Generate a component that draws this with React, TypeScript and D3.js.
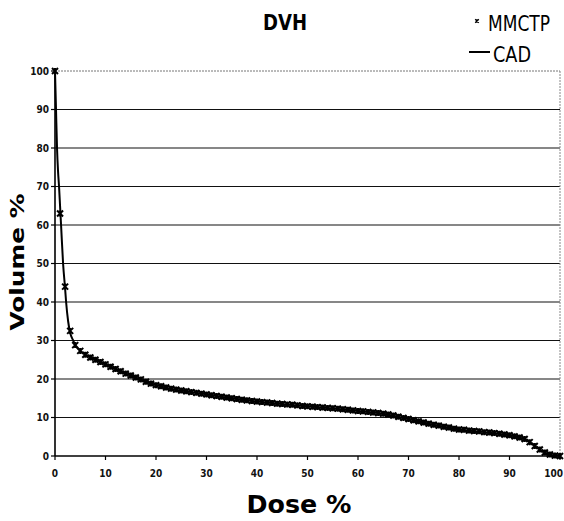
import React from "react";
import * as d3 from "d3";

const yTicks = [0, 10, 20, 30, 40, 50, 60, 70, 80, 90, 100];
const xTicks = [0, 10, 20, 30, 40, 50, 60, 70, 80, 90, 100];

const mmctpDose = [
  0, 1, 2, 3, 4, 5, 6, 7, 8, 9, 10, 11, 12, 13, 14, 15, 16, 17, 18, 19, 20,
  21, 22, 23, 24, 25, 26, 27, 28, 29, 30, 31, 32, 33, 34, 35, 36, 37, 38, 39, 40,
  41, 42, 43, 44, 45, 46, 47, 48, 49, 50, 51, 52, 53, 54, 55, 56, 57, 58, 59, 60,
  61, 62, 63, 64, 65, 66, 67, 68, 69, 70, 71, 72, 73, 74, 75, 76, 77, 78, 79, 80,
  81, 82, 83, 84, 85, 86, 87, 88, 89, 90, 91, 92, 93, 94, 95, 96, 97, 98, 99, 100,
];
const mmctpVolume = [
  100, 63, 44, 32.5, 28.8, 27.3, 26.3, 25.6, 25.0, 24.4, 23.8, 23.2, 22.6, 22.0, 21.4, 20.9, 20.4, 19.9, 19.3, 18.8, 18.4,
  18.1, 17.8, 17.5, 17.25, 17.0, 16.8, 16.6, 16.4, 16.2, 16.0, 15.8, 15.6, 15.4, 15.2, 15.0, 14.8, 14.6, 14.45, 14.3, 14.15,
  14.0, 13.9, 13.75, 13.6, 13.5, 13.4, 13.3, 13.15, 13.0, 12.9, 12.8, 12.7, 12.6, 12.5, 12.4, 12.3, 12.15, 12.0, 11.85, 11.7,
  11.6, 11.45, 11.3, 11.15, 11.0, 10.8, 10.5, 10.2, 9.9, 9.6, 9.3, 9.0, 8.7, 8.4, 8.1, 7.9, 7.6, 7.4, 7.1, 6.9,
  6.8, 6.6, 6.5, 6.4, 6.2, 6.1, 5.95, 5.8, 5.6, 5.4, 5.1, 4.8, 4.4, 3.6, 2.6, 1.7, 0.9, 0.4, 0.1, 0,
];

const cadDose = [
  0, 0.2, 0.4, 0.6, 0.8, 1, 1.2, 1.6, 2, 2.2, 2.6, 3, 3.6, 4, 5, 6, 8, 10, 15, 20, 25, 30,
  40, 50, 60, 65, 70, 75, 80, 85, 90, 92, 93, 94, 95, 96, 97, 98, 99, 100,
];
const cadVolume = [
  100, 90, 80, 74, 70, 65, 60, 50, 43.5, 40, 35, 32, 30, 28.8, 27.3, 26.3, 25.0, 23.8, 20.9, 18.4, 17.0, 16.0,
  14.15, 12.9, 11.7, 11.0, 9.6, 8.1, 6.9, 6.2, 5.4, 4.8, 4.4, 3.6, 2.6, 1.7, 0.9, 0.4, 0.1, 0,
];

const W = 564;
const H = 521;
const LEFT = 55;
const RIGHT = 560;
const TOP = 71;
const BOTTOM = 456;

export default function App() {
  const x = d3.scaleLinear().domain([0, 100]).range([LEFT, RIGHT]);
  const y = d3.scaleLinear().domain([0, 100]).range([BOTTOM, TOP]);

  const cadPts: [number, number][] = cadDose.map((d, i) => [d, cadVolume[i]]);
  const mmPts: [number, number][] = mmctpDose.map((d, i) => [d, mmctpVolume[i]]);

  const line = d3
    .line<[number, number]>()
    .x((d) => x(d[0]))
    .y((d) => y(d[1]))
    .curve(d3.curveMonotoneX);

  const tickFont = "'DejaVu Sans Condensed', 'DejaVu Sans', sans-serif";
  const titleFont = "'DejaVu Sans Condensed', 'DejaVu Sans', sans-serif";

  const markerPath = (cx: number, cy: number, s: number) =>
    `M${cx - s},${cy - s}L${cx + s},${cy + s}M${cx - s},${cy + s}L${cx + s},${cy - s}M${cx},${cy - s}L${cx},${cy + s}`;

  return (
    <svg
      width={W}
      height={H}
      style={{ position: "absolute", left: 0, top: 0, background: "#fff" }}
    >
      <rect x={0} y={0} width={W} height={H} fill="#fff" />

      {/* gridlines */}
      {yTicks
        .filter((t) => t > 0 && t < 100)
        .map((t) => (
          <line
            key={"g" + t}
            x1={LEFT}
            x2={RIGHT}
            y1={y(t)}
            y2={y(t)}
            stroke="#111"
            strokeWidth={1.2}
          />
        ))}
      {/* top & right border */}
      <line x1={LEFT} x2={RIGHT} y1={y(100)} y2={y(100)} stroke="#777" strokeWidth={1} strokeDasharray="2,1" />
      <line x1={RIGHT} x2={RIGHT} y1={y(100)} y2={y(0)} stroke="#888" strokeWidth={1} strokeDasharray="2,1" />

      {/* axes */}
      <line x1={LEFT} x2={LEFT} y1={y(100)} y2={y(0)} stroke="#000" strokeWidth={1.6} />
      <line x1={LEFT} x2={RIGHT} y1={y(0)} y2={y(0)} stroke="#000" strokeWidth={1.6} />

      {yTicks.map((t) => (
        <g key={"yt" + t}>
          <line x1={LEFT - 4} x2={LEFT} y1={y(t)} y2={y(t)} stroke="#000" strokeWidth={1.2} />
          <text
            x={LEFT - 6}
            y={y(t) + 3.5}
            textAnchor="end"
            fontFamily={tickFont}
            fontWeight="bold"
            fontSize={10}
            fill="#111"
          >
            {t}
          </text>
        </g>
      ))}
      {xTicks.map((t, i) => (
        <g key={"xt" + t}>
          <line x1={x(t)} x2={x(t)} y1={y(0)} y2={y(0) + 4} stroke="#000" strokeWidth={1.2} />
          <text
            x={i === xTicks.length - 1 ? W - 1 : x(t)}
            y={y(0) + 21}
            textAnchor={i === xTicks.length - 1 ? "end" : "middle"}
            fontFamily={tickFont}
            fontWeight="bold"
            fontSize={10}
            fill="#111"
          >
            {t}
          </text>
        </g>
      ))}

      {/* CAD line */}
      <path d={line(cadPts) || ""} fill="none" stroke="#000" strokeWidth={2} />

      {/* MMCTP markers */}
      {mmPts.map((p, i) => (
        <path
          key={"m" + i}
          d={markerPath(x(p[0]), y(p[1]), 3)}
          stroke="#000"
          strokeWidth={2}
          fill="none"
        />
      ))}

      {/* title */}
      <text
        x={285}
        y={30}
        textAnchor="middle"
        fontFamily={titleFont}
        fontWeight="bold"
        fontSize={22}
        textLength={44}
        lengthAdjust="spacingAndGlyphs"
        fill="#000"
      >
        DVH
      </text>

      {/* legend */}
      <path d={markerPath(477, 21, 1.8)} stroke="#000" strokeWidth={1.3} fill="none" />
      <text
        x={488}
        y={31}
        fontFamily={titleFont}
        fontSize={21}
        textLength={62}
        lengthAdjust="spacingAndGlyphs"
        fill="#000"
      >
        MMCTP
      </text>
      <line x1={469} x2={490} y1={52} y2={52} stroke="#000" strokeWidth={2} />
      <text
        x={493}
        y={62}
        fontFamily={titleFont}
        fontSize={21}
        textLength={38}
        lengthAdjust="spacingAndGlyphs"
        fill="#000"
      >
        CAD
      </text>

      {/* axis titles */}
      <text
        transform={`translate(24, 262) rotate(-90)`}
        textAnchor="middle"
        fontFamily="'DejaVu Sans', Verdana, sans-serif"
        fontWeight="bold"
        fontSize={20}
        textLength={137}
        lengthAdjust="spacingAndGlyphs"
        fill="#000"
      >
        Volume %
      </text>
      <text
        x={299}
        y={513}
        textAnchor="middle"
        fontFamily={titleFont}
        fontWeight="bold"
        fontSize={25}
        textLength={105}
        lengthAdjust="spacingAndGlyphs"
        fill="#000"
      >
        Dose %
      </text>
    </svg>
  );
}
